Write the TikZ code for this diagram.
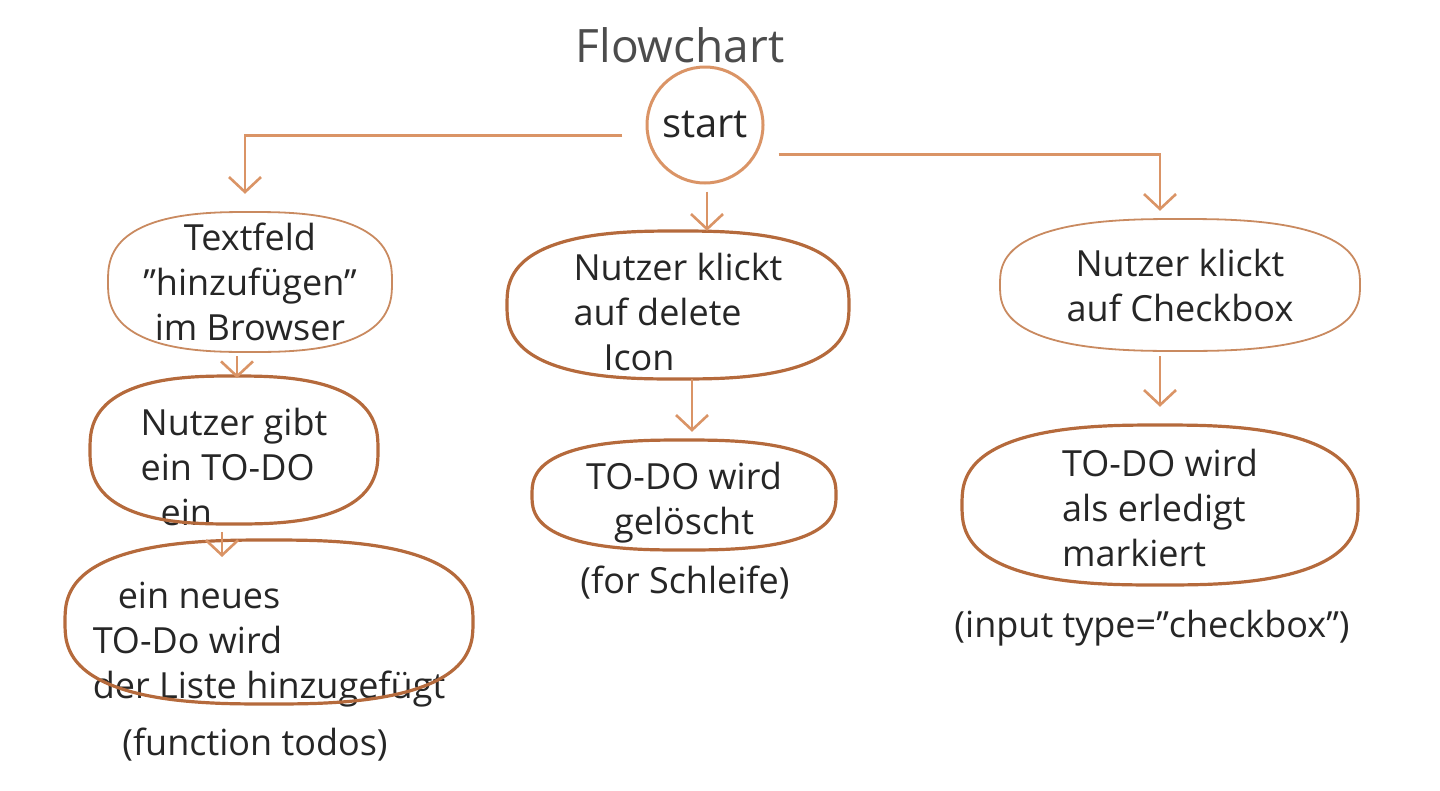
\documentclass[tikz,border=0pt]{standalone}
\usepackage{fontspec}
\setmainfont{Open Sans}
\usetikzlibrary{arrows.meta}
\definecolor{linec}{HTML}{DA9466}
\definecolor{thinc}{HTML}{C98A60}
\definecolor{thickc}{HTML}{B56A3C}
\tikzset{
  conn/.style={draw=linec, line width=2.6pt, -{Straight Barb[length=15pt,width=32pt,line width=2.6pt]}},
  blob/.style={rectangle, inner sep=0pt, align=center,
    font=\fontsize{36}{45}\selectfont, text=black!85},
  thinline/.style={draw=thinc, line width=1.8pt},
  thickline/.style={draw=thickc, line width=3.2pt},
  note/.style={font=\fontsize{36}{42}\selectfont, text=black!85},
}
% superellipse outline round a node: name, half width, half height, style
\newcommand\blobline[4]{%
  \draw[#4, shift={(#1.center)}] plot[smooth cycle, domain=1.5:358.5, samples=120, variable=\t]
    ({#2*sign(cos(\t))*abs(cos(\t))^0.75},{#3*sign(sin(\t))*abs(sin(\t))^0.75});}
\begin{document}
\begin{tikzpicture}[x=1pt,y=-1pt]
\useasboundingbox (0,0) rectangle (1440,790);
\node[font=\fontsize{46}{50}\selectfont, text=black!70] (title) at (680,45) {Flowchart};
\node[circle, draw=linec, line width=3pt, minimum size=116pt, inner sep=0pt,
  font=\fontsize{40}{44}\selectfont, text=black!85] (start) at (705,125) {start};

\node[blob, minimum width=284pt, minimum height=140pt] (n1) at (250,282)
  {Textfeld\\"hinzufügen"\\im Browser};
\node[blob, align=left, minimum width=288pt, minimum height=148pt] (n2) at (234,450)
  {\rule{0pt}{61pt}Nutzer gibt\\ein TO-DO\\\hspace*{20pt}ein};
\node[blob, align=left, minimum width=408pt, minimum height=164pt] (n3) at (269,622)
  {\rule{0pt}{71pt}\hspace*{25pt}ein neues\\TO-Do wird\\der Liste hinzugefügt};
\node[note] (l1) at (255,745) {(function todos)};

\node[blob, align=left, minimum width=342pt, minimum height=148pt] (m1) at (678,305)
  {\rule{0pt}{41pt}Nutzer klickt\\auf delete\\\hspace*{30pt}Icon};
\node[blob, minimum width=304pt, minimum height=110pt] (m2) at (684,495)
  {\rule{0pt}{43pt}TO-DO wird\\gelöscht};
\node[note] (l2) at (685,583) {(for Schleife)};

\node[blob, minimum width=360pt, minimum height=132pt] (r1) at (1180,285)
  {Nutzer klickt\\auf Checkbox};
\node[blob, align=left, minimum width=396pt, minimum height=160pt] (r2) at (1160,505)
  {\rule{0pt}{33pt}TO-DO wird\\als erledigt\\markiert};
\node[note] (l3) at (1152,628) {(input type="checkbox")};

\blobline{n1}{142}{70}{thinline}
\blobline{n2}{144}{74}{thickline}
\blobline{n3}{204}{82}{thickline}
\blobline{m1}{171}{74}{thickline}
\blobline{m2}{152}{55}{thickline}
\blobline{r1}{180}{66}{thinline}
\blobline{r2}{198}{80}{thickline}

\draw[conn, shorten <=24pt, shorten >=18pt] (start.190) -| (n1.north -| 245,0);
\draw[conn, shorten <=7pt] (start.south -| 707,0) -- (m1.north -| 707,0);
\draw[conn, shorten <=22pt, shorten >=8pt] (start.-30) -| (r1.north -| 1160,0);
\draw[conn, shorten <=4pt, shorten >=-4pt] (n1.south -| 237,0) -- (n2.north -| 237,0);
\draw[conn, shorten <=6pt, shorten >=-20pt] (n2.south -| 222,0) -- (n3.north -| 222,0);
\draw[conn, shorten <=0pt, shorten >=8pt] (m1.south -| 692,0) -- (m2.north -| 692,0);
\draw[conn, shorten <=5pt, shorten >=18pt] (r1.south -| 1160,0) -- (r2.north -| 1160,0);
\end{tikzpicture}
\end{document}
